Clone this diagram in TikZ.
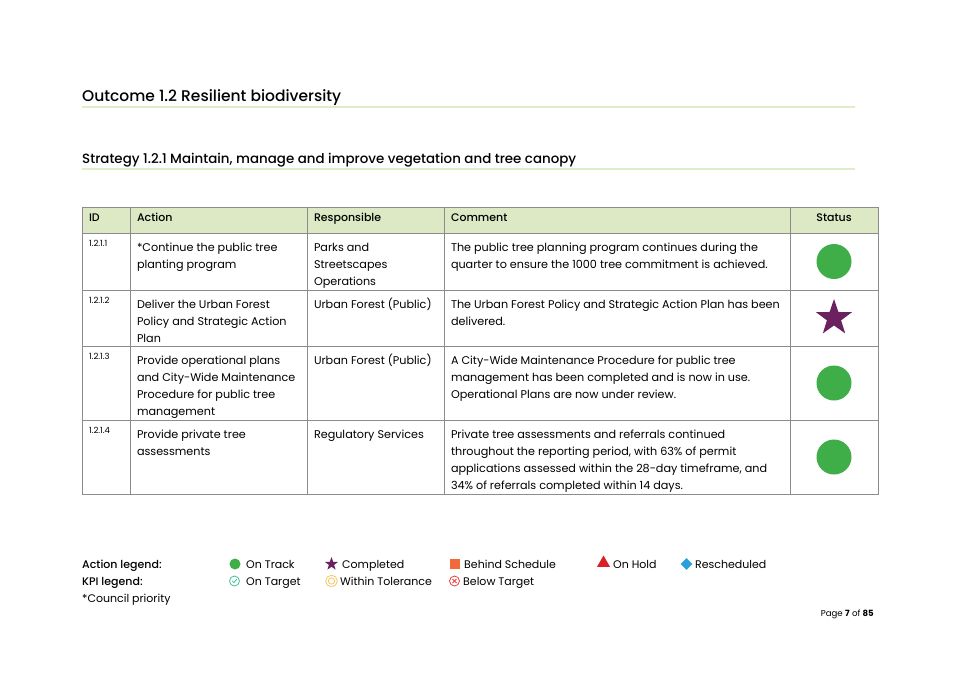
\documentclass[tikz,border=0pt]{standalone}
\usepackage{fontspec}
\setmainfont{Poppins}
\newfontfamily\medfont{Poppins Medium}
\usetikzlibrary{shapes.geometric, positioning}
\definecolor{hdrgreen}{RGB}{221, 233, 196}
\definecolor{tblgray}{RGB}{140, 140, 140}
\definecolor{rulegreen}{RGB}{222, 236, 200}
\definecolor{ontrack}{RGB}{63, 174, 73}
\definecolor{completed}{RGB}{107, 32, 96}
\definecolor{behind}{RGB}{242, 105, 60}
\definecolor{onhold}{RGB}{215, 35, 40}
\definecolor{resched}{RGB}{40, 160, 220}
\definecolor{ontarget}{RGB}{70, 190, 150}
\definecolor{tolerance}{RGB}{250, 195, 90}
\definecolor{belowred}{RGB}{232, 65, 60}
\newcommand{\tblfont}{\fontsize{11.2}{17}\selectfont}
\newcommand{\legfont}{\fontsize{11}{17}\selectfont}
\newcommand{\idfont}{\fontsize{8.5}{9}\selectfont}
\newcommand{\cbox}[3]{\parbox[t][#2][t]{#1}{\raggedright\strut#3}}

\begin{document}
\begin{tikzpicture}[x=1pt, y=-1pt,
  cell/.style={draw=tblgray, line width=0.8pt, anchor=north west, inner xsep=7pt, inner ysep=7pt, outer sep=0pt, font=\tblfont},
  head/.style={cell, fill=hdrgreen, inner ysep=0pt, minimum height=26pt, text height=8pt, text depth=5pt, align=left, font=\medfont\fontsize{11}{12}\selectfont},
  rule/.style={rulegreen, line width=1.6pt},
  dot/.style={circle, fill=ontrack, inner sep=0pt, minimum size=#1},
  starmark/.style={star, star points=5, star point ratio=2.55, fill=completed, inner sep=0pt, minimum size=#1},
  legtext/.style={anchor=base west, inner sep=0pt, font=\legfont},
]
  \useasboundingbox (0,0) rectangle (955,675);

  % Headings
  \node[anchor=base west, inner sep=0pt, font=\medfont\fontsize{15.5}{17}\selectfont] (title) at (82,101) {Outcome 1.2 Resilient biodiversity};
  \draw[rule] (82,107) -- (855,107);
  \node[anchor=base west, inner sep=0pt, font=\medfont\fontsize{13.4}{15}\selectfont] (strategy) at (82,163) {Strategy 1.2.1 Maintain, manage and improve vegetation and tree canopy};
  \draw[rule] (82,169) -- (855,169);

  % Header row
  \node[head, text width=34pt] (hid) at (82,207) {ID};
  \node[head, text width=163pt] (hact) at (130,207) {Action};
  \node[head, text width=123pt] (hresp) at (307,207) {Responsible};
  \node[head, text width=332pt] (hcom) at (444,207) {Comment};
  \node[head, text width=74pt, align=center] (hstat) at (790,207) {Status};

  % Row 1.2.1.1
  \node[cell, font=\idfont] (id1) at (82,233) {\cbox{34pt}{43pt}{1.2.1.1}};
  \node[cell] (act1) at (130,233) {\cbox{163pt}{43pt}{*Continue the public tree\\planting program}};
  \node[cell] (resp1) at (307,233) {\cbox{123pt}{43pt}{Parks and\\Streetscapes\\Operations}};
  \node[cell] (com1) at (444,233) {\cbox{332pt}{43pt}{The public tree planning program continues during the\\quarter to ensure the 1000 tree commitment is achieved.}};
  \node[cell] (stat1) at (790,233) {\cbox{74pt}{43pt}{}};

  % Row 1.2.1.2
  \node[cell, font=\idfont] (id2) at (82,290) {\cbox{34pt}{42pt}{1.2.1.2}};
  \node[cell] (act2) at (130,290) {\cbox{163pt}{42pt}{Deliver the Urban Forest\\Policy and Strategic Action\\Plan}};
  \node[cell] (resp2) at (307,290) {\cbox{123pt}{42pt}{Urban Forest (Public)}};
  \node[cell] (com2) at (444,290) {\cbox{332pt}{42pt}{The Urban Forest Policy and Strategic Action Plan has been\\delivered.}};
  \node[cell] (stat2) at (790,290) {\cbox{74pt}{42pt}{}};

  % Row 1.2.1.3
  \node[cell, font=\idfont] (id3) at (82,346) {\cbox{34pt}{60pt}{1.2.1.3}};
  \node[cell] (act3) at (130,346) {\cbox{163pt}{60pt}{Provide operational plans\\and City-Wide Maintenance\\Procedure for public tree\\management}};
  \node[cell] (resp3) at (307,346) {\cbox{123pt}{60pt}{Urban Forest (Public)}};
  \node[cell] (com3) at (444,346) {\cbox{332pt}{60pt}{A City-Wide Maintenance Procedure for public tree\\management has been completed and is now in use.\\Operational Plans are now under review.}};
  \node[cell] (stat3) at (790,346) {\cbox{74pt}{60pt}{}};

  % Row 1.2.1.4
  \node[cell, font=\idfont] (id4) at (82,420) {\cbox{34pt}{60pt}{1.2.1.4}};
  \node[cell] (act4) at (130,420) {\cbox{163pt}{60pt}{Provide private tree\\assessments}};
  \node[cell] (resp4) at (307,420) {\cbox{123pt}{60pt}{Regulatory Services}};
  \node[cell] (com4) at (444,420) {\cbox{332pt}{60pt}{Private tree assessments and referrals continued\\throughout the reporting period, with 63\% of permit\\applications assessed within the 28-day timeframe, and\\34\% of referrals completed within 14 days.}};
  \node[cell] (stat4) at (790,420) {\cbox{74pt}{60pt}{}};

  % Status marks
  \node[dot=35pt] (mark1) at (stat1.center) {};
  \node[starmark=38pt] (mark2) at (stat2.center) {};
  \node[dot=35pt] (mark3) at (stat3.center) {};
  \node[dot=35pt] (mark4) at (stat4.center) {};

  % Legend
  \node[legtext, font=\medfont\legfont] (actleg) at (82,568) {Action legend:};
  \node[legtext, font=\medfont\legfont] (kpileg) at (82,585) {KPI legend:};
  \node[legtext] (council) at (82,602) {*Council priority};

  \node[dot=11pt] (ltrack) at (235,564) {};
  \node[legtext] (ttrack) at (246,568) {On Track};
  \node[starmark=14pt] (lcomp) at (331.5,564) {};
  \node[legtext] (tcomp) at (342,568) {Completed};
  \node[rectangle, fill=behind, inner sep=0pt, minimum size=10pt] (lbehind) at (455,564) {};
  \node[legtext] (tbehind) at (464,568) {Behind Schedule};
  \node[regular polygon, regular polygon sides=3, fill=onhold, inner sep=0pt, minimum size=15pt] (lhold) at (603.5,563) {};
  \node[legtext] (thold) at (613,568) {On Hold};
  \node[diamond, fill=resched, inner sep=0pt, minimum size=12pt] (lresched) at (686.5,564) {};
  \node[legtext] (tresched) at (695,568) {Rescheduled};

  \node[circle, draw=ontarget, line width=0.8pt, inner sep=0pt, minimum size=10pt] (ltarget) at (234.5,581) {};
  \draw[ontarget, line width=0.8pt] ([shift={(-2.2pt,0.2pt)}]ltarget.center) -- ([shift={(-0.6pt,-1.6pt)}]ltarget.center) -- ([shift={(2.3pt,1.8pt)}]ltarget.center);
  \node[legtext] (ttarget) at (246,585) {On Target};
  \node[circle, draw=tolerance, double=white, double distance=1.4pt, line width=0.9pt, inner sep=0pt, minimum size=9pt] (ltol) at (331.5,581) {};
  \node[legtext] (ttol) at (340,585) {Within Tolerance};
  \node[circle, draw=belowred, line width=0.8pt, inner sep=0pt, minimum size=10pt] (lbelow) at (454.5,581) {};
  \draw[belowred, line width=0.8pt] ([shift={(-2pt,-2pt)}]lbelow.center) -- ([shift={(2pt,2pt)}]lbelow.center);
  \draw[belowred, line width=0.8pt] ([shift={(-2pt,2pt)}]lbelow.center) -- ([shift={(2pt,-2pt)}]lbelow.center);
  \node[legtext] (tbelow) at (463,585) {Below Target};

  % Page number
  \node[anchor=base east, inner sep=0pt, font=\fontsize{8.6}{10}\selectfont] (page) at (874,616) {Page {\bfseries 7} of {\bfseries 85}};
\end{tikzpicture}
\end{document}
